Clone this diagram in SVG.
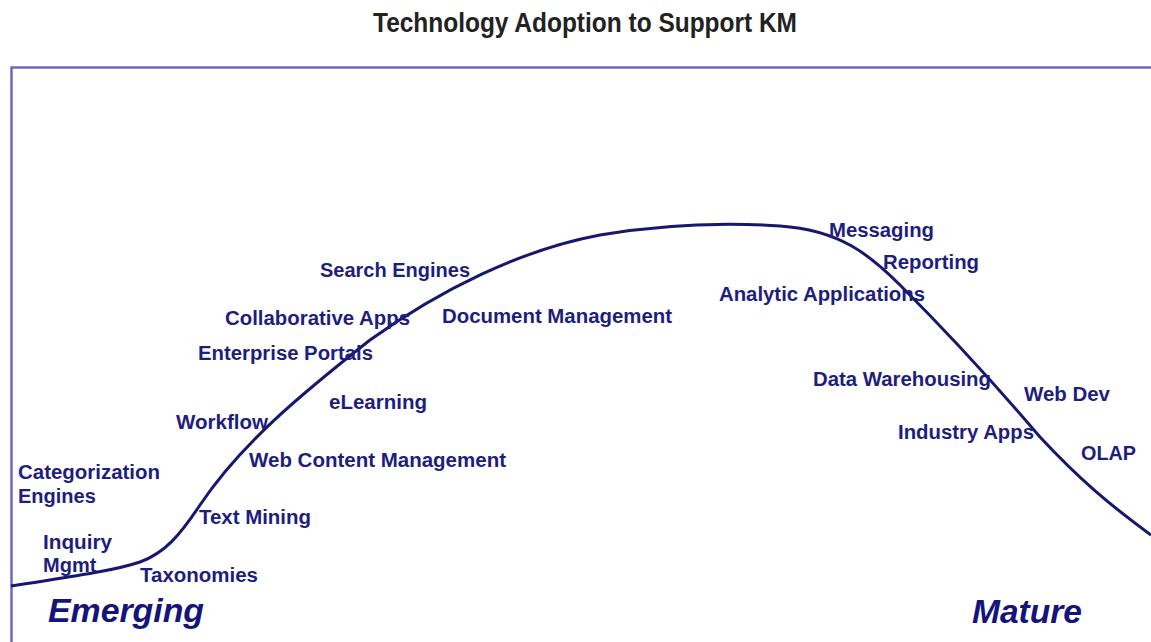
<svg xmlns="http://www.w3.org/2000/svg" width="1151" height="642" viewBox="0 0 1151 642">
<style>
.lbl{font-family:"Liberation Sans",Arial,sans-serif;font-weight:bold;font-size:20px;fill:#1e1e7e}
.big{font-family:"Liberation Sans",Arial,sans-serif;font-weight:bold;font-style:italic;font-size:34px;fill:#14147a}
.title{font-family:"Liberation Sans",Arial,sans-serif;font-weight:bold;font-size:28px;fill:#222}
</style>
<rect width="1151" height="642" fill="#fff"/>
<text class="title" x="373" y="32" textLength="424" lengthAdjust="spacingAndGlyphs">Technology Adoption to Support KM</text>
<path d="M11.5 642 V67.5 H1151" fill="none" stroke="#6b6bb8" stroke-width="2.5"/>
<g id="connectors">
<path d="M11 586 C60 578,110 572,140 562 C165 553,180 535,200 505 C240 445,300 395,370 340 C440 290,520 250,600 235 C660 225,720 222,780 226 C840 230,870 255,900 285 C950 335,1000 390,1040 437 C1080 480,1110 505,1151 535" fill="none" stroke="#17176f" stroke-width="3"/>
</g>
<g id="n-search"><text class="lbl" x="320" y="277" textLength="150" lengthAdjust="spacingAndGlyphs">Search Engines</text></g>
<g id="n-collab"><text class="lbl" x="225" y="325" textLength="185" lengthAdjust="spacingAndGlyphs">Collaborative Apps</text></g>
<g id="n-docmgmt"><text class="lbl" x="442" y="323" textLength="230" lengthAdjust="spacingAndGlyphs">Document Management</text></g>
<g id="n-portals"><text class="lbl" x="198" y="360" textLength="175" lengthAdjust="spacingAndGlyphs">Enterprise Portals</text></g>
<g id="n-elearning"><text class="lbl" x="329" y="409" textLength="98" lengthAdjust="spacingAndGlyphs">eLearning</text></g>
<g id="n-workflow"><text class="lbl" x="176" y="429" textLength="92" lengthAdjust="spacingAndGlyphs">Workflow</text></g>
<g id="n-wcm"><text class="lbl" x="249" y="467" textLength="257" lengthAdjust="spacingAndGlyphs">Web Content Management</text></g>
<g id="n-categ"><text class="lbl" x="18" y="479" textLength="142" lengthAdjust="spacingAndGlyphs">Categorization</text><text class="lbl" x="18" y="503">Engines</text></g>
<g id="n-textmining"><text class="lbl" x="199" y="524" textLength="112" lengthAdjust="spacingAndGlyphs">Text Mining</text></g>
<g id="n-inquiry"><text class="lbl" x="43" y="549" textLength="69" lengthAdjust="spacingAndGlyphs">Inquiry</text><text class="lbl" x="43" y="572">Mgmt</text></g>
<g id="n-taxonomies"><text class="lbl" x="140" y="582" textLength="118" lengthAdjust="spacingAndGlyphs">Taxonomies</text></g>
<g id="n-emerging"><text class="big" x="48" y="622" textLength="156" lengthAdjust="spacingAndGlyphs">Emerging</text></g>
<g id="n-messaging"><text class="lbl" x="829" y="237" textLength="105" lengthAdjust="spacingAndGlyphs">Messaging</text></g>
<g id="n-reporting"><text class="lbl" x="883" y="269" textLength="96" lengthAdjust="spacingAndGlyphs">Reporting</text></g>
<g id="n-analytic"><text class="lbl" x="719" y="301" textLength="206" lengthAdjust="spacingAndGlyphs">Analytic Applications</text></g>
<g id="n-dw"><text class="lbl" x="813" y="386" textLength="178" lengthAdjust="spacingAndGlyphs">Data Warehousing</text></g>
<g id="n-webdev"><text class="lbl" x="1024" y="401" textLength="86" lengthAdjust="spacingAndGlyphs">Web Dev</text></g>
<g id="n-industry"><text class="lbl" x="898" y="439" textLength="136" lengthAdjust="spacingAndGlyphs">Industry Apps</text></g>
<g id="n-olap"><text class="lbl" x="1081" y="460" textLength="55" lengthAdjust="spacingAndGlyphs">OLAP</text></g>
<g id="n-mature"><text class="big" x="972" y="623" textLength="110" lengthAdjust="spacingAndGlyphs">Mature</text></g>
</svg>
